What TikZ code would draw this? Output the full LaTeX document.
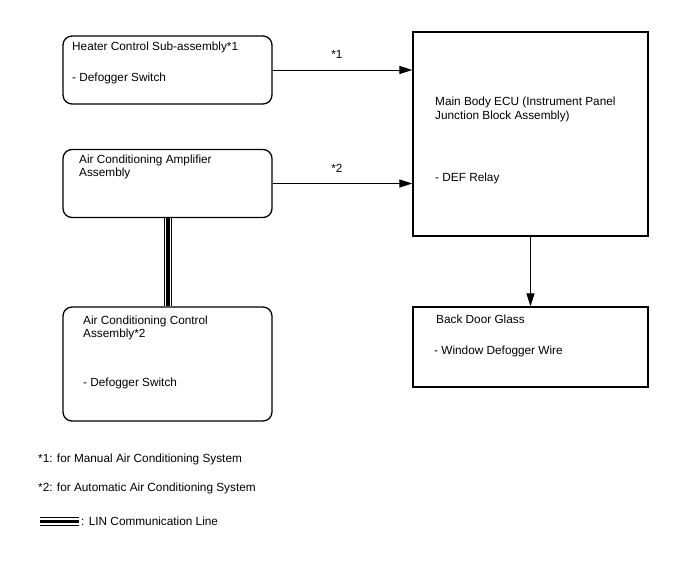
\documentclass[tikz,border=0pt]{standalone}
\usepackage{fontspec}
\setmainfont{Liberation Sans}
\usetikzlibrary{arrows.meta}

\begin{document}
\begin{tikzpicture}[x=1pt,y=-1pt,>={Triangle[length=13pt,width=8pt]},
    every node/.style={font=\fontsize{11.8}{14}\selectfont,inner sep=0pt},
    unit/.style={draw,line width=1.3pt,rounded corners=9pt,minimum width=209pt},
    ecubox/.style={draw,line width=1.3pt,minimum width=235pt},
    txt/.style={anchor=base west},
    lin/.style={line width=3.4pt,preaction={draw,line width=8.4pt},
      preaction={draw,white,line width=6.2pt}}]
  \useasboundingbox (0,0) rectangle (688,560);
  % boxes
  \node[unit,minimum height=68pt] (heater) at (167.5,70) {};
  \node[unit,minimum height=68pt] (amp) at (167.5,183.5) {};
  \node[unit,minimum height=114pt] (ctrl) at (167.5,364) {};
  \node[ecubox,minimum height=204pt] (ecu) at (530.5,134) {};
  \node[ecubox,minimum height=80pt] (glass) at (530.5,347) {};
  % texts
  \node[txt] (heatername) at (72,50) {Heater Control Sub-assembly*1};
  \node[txt] (heatersw) at (72,81) {- Defogger Switch};
  \node[txt] (ampname) at (79,163.3) {Air Conditioning Amplifier};
  \node[txt] (ampname2) at (79,176.8) {Assembly};
  \node[txt] (ctrlname) at (83,324) {Air Conditioning Control};
  \node[txt] (ctrlname2) at (83,337.7) {Assembly*2};
  \node[txt] (ctrlsw) at (83,386.7) {- Defogger Switch};
  \node[txt] (ecuname) at (435,105) {Main Body ECU (Instrument Panel};
  \node[txt] (ecuname2) at (435,119.3) {Junction Block Assembly)};
  \node[txt] (ecurelay) at (435,181) {- DEF Relay};
  \node[txt] (glassname) at (436,323.3) {Back Door Glass};
  \node[txt] (glasswire) at (434,354.3) {- Window Defogger Wire};
  % connectors
  \draw[->,line width=1pt] (heater.east) -- (heater.east -| ecu.west)
    node[pos=0.46,above=11pt] (mark1) {*1};
  \draw[->,line width=1pt] (amp.east) -- (amp.east -| ecu.west)
    node[pos=0.46,above=11pt] (mark2) {*2};
  \draw[->,line width=1pt] (ecu.south) -- (glass.north);
  \draw[lin] ([xshift=0.5pt]amp.south) -- ([xshift=0.5pt]ctrl.north);
  % notes
  \node[txt] (note1) at (38,462.3) {*1: for Manual Air Conditioning System};
  \node[txt] (note2) at (38,491) {*2: for Automatic Air Conditioning System};
  \coordinate (linA) at (40,521.5);
  \coordinate (linB) at (79,521.5);
  \draw[lin] (linA) -- (linB);
  \node[txt] (linlabel) at (81,525.3) {: LIN Communication Line};
\end{tikzpicture}
\end{document}
